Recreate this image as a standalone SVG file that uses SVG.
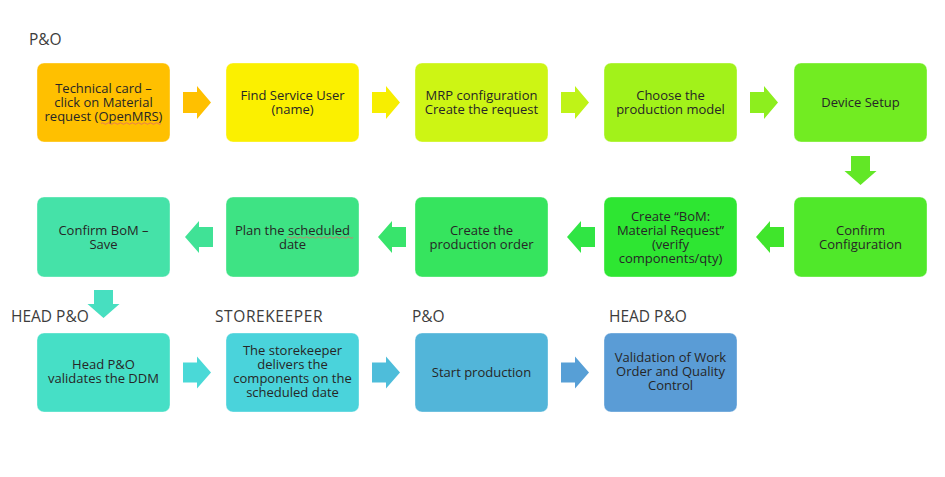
<svg xmlns="http://www.w3.org/2000/svg" width="945" height="477" viewBox="0 0 945 477">
<style>
.box{stroke:#ffffff;stroke-opacity:0.35;stroke-width:1}
.t{font-family:"Open Sans","Liberation Sans",sans-serif;font-size:13px;fill:#262626;text-anchor:middle}
.lbl{font-family:"Open Sans","Liberation Sans",sans-serif;font-size:15.5px;fill:#3c3c3c}
.sq{fill:none;stroke:#e06a6a;stroke-width:0.8}
</style>
<rect width="945" height="477" fill="#ffffff"/>
<g id="labels">
<text class="lbl" x="29" y="45">P&amp;O</text>
<text class="lbl" x="11" y="322">HEAD P&amp;O</text>
<text class="lbl" x="215" y="322" letter-spacing="0.6">STOREKEEPER</text>
<text class="lbl" x="412" y="322">P&amp;O</text>
<text class="lbl" x="609" y="322">HEAD P&amp;O</text>
</g>
<g id="connectors">
<polygon fill="#FFC000" points="183,92 197,92 197,86 211,102.5 197,119 197,113 183,113"/>
<polygon fill="#F7EE00" points="372,92 386,92 386,86 400,102.5 386,119 386,113 372,113"/>
<polygon fill="#BFF317" points="561,92 575,92 575,86 589,102.5 575,119 575,113 561,113"/>
<polygon fill="#8DEE1E" points="750,92 764,92 764,86 778,102.5 764,119 764,113 750,113"/>
<polygon fill="#62E726" points="851,156 870,156 870,171 876.5,171 860.5,185 844.5,171 851,171"/>
<polygon fill="#40E52C" points="784,227 770,227 770,221 756,237 770,253 770,247 784,247"/>
<polygon fill="#30E544" points="595,227 581,227 581,221 567,237 581,253 581,247 595,247"/>
<polygon fill="#38E46C" points="406,227 392,227 392,221 378,237 392,253 392,247 406,247"/>
<polygon fill="#40E296" points="213,227 199,227 199,221 185,237 199,253 199,247 213,247"/>
<polygon fill="#47DFC0" points="94,290 113,290 113,304 119.5,304 103.5,318 87.5,304 94,304"/>
<polygon fill="#4AD9D7" points="183,362.5 197,362.5 197,356.5 211,372.5 197,388.5 197,382.5 183,382.5"/>
<polygon fill="#4EBDDA" points="372,362.5 386,362.5 386,356.5 400,372.5 386,388.5 386,382.5 372,382.5"/>
<polygon fill="#579FD6" points="561,362.5 575,362.5 575,356.5 589,372.5 575,388.5 575,382.5 561,382.5"/>
</g>
<g id="n1"><rect class="box" x="37" y="63" width="133" height="79" rx="7" fill="#FFC000"/>
<text class="t" x="103.5" y="93">Technical card –</text><text class="t" x="103.5" y="107">click on Material</text><text class="t" x="103.5" y="121">request (OpenMRS)</text>
<path class="sq" d="M101,123.5 q1.5,-1.5 3,0 t3,0 t3,0 t3,0 t3,0 t3,0 t3,0 t3,0 t3,0 t3,0 t3,0 t3,0 t3,0 t3,0 t3,0 t3,0 t3,0 t3,0 t3,0 t3,0"/></g>
<g id="n2"><rect class="box" x="226" y="63" width="133" height="79" rx="7" fill="#FBF000"/>
<text class="t" x="292.5" y="100">Find Service User</text><text class="t" x="292.5" y="114">(name)</text></g>
<g id="n3"><rect class="box" x="415" y="63" width="133" height="79" rx="7" fill="#CDF514"/>
<text class="t" x="481.5" y="100">MRP configuration</text><text class="t" x="481.5" y="114">Create the request</text></g>
<g id="n4"><rect class="box" x="604" y="63" width="133" height="79" rx="7" fill="#A2F21A"/>
<text class="t" x="670.5" y="100">Choose the</text><text class="t" x="670.5" y="114">production model</text></g>
<g id="n5"><rect class="box" x="794" y="63" width="133" height="79" rx="7" fill="#72EC22"/>
<text class="t" x="860.5" y="107">Device Setup</text></g>
<g id="n6"><rect class="box" x="794" y="197" width="133" height="80" rx="7" fill="#50E82A"/>
<text class="t" x="860.5" y="235">Confirm</text><text class="t" x="860.5" y="249">Configuration</text></g>
<g id="n7"><rect class="box" x="604" y="197" width="133" height="80" rx="7" fill="#2EE632"/>
<text class="t" x="670.5" y="221">Create “BoM:</text><text class="t" x="670.5" y="235">Material Request”</text><text class="t" x="670.5" y="249">(verify</text><text class="t" x="670.5" y="263">components/qty)</text></g>
<g id="n8"><rect class="box" x="415" y="197" width="133" height="80" rx="7" fill="#36E45E"/>
<text class="t" x="481.5" y="235">Create the</text><text class="t" x="481.5" y="249">production order</text></g>
<g id="n9"><rect class="box" x="226" y="197" width="133" height="80" rx="7" fill="#3EE384"/>
<text class="t" x="292.5" y="235">Plan the scheduled</text><text class="t" x="292.5" y="249">date</text>
<path class="sq" d="M287,237.5 q1.5,-1.5 3,0 t3,0 t3,0 t3,0 t3,0 t3,0 t3,0 t3,0 t3,0 t3,0 t3,0 t3,0 t3,0 t3,0 t3,0 t3,0 t3,0 t3,0 t3,0 t3,0 t3,0 t3,0"/></g>
<g id="n10"><rect class="box" x="37" y="197" width="133" height="80" rx="7" fill="#45E2A8"/>
<text class="t" x="103.5" y="235">Confirm BoM –</text><text class="t" x="103.5" y="249">Save</text></g>
<g id="n11"><rect class="box" x="37" y="333" width="133" height="79" rx="7" fill="#46DFC6"/>
<text class="t" x="103.5" y="369">Head P&amp;O</text><text class="t" x="103.5" y="383">validates the DDM</text></g>
<g id="n12"><rect class="box" x="226" y="333" width="133" height="79" rx="7" fill="#4AD3DB"/>
<text class="t" x="292.5" y="355">The storekeeper</text><text class="t" x="292.5" y="369">delivers the</text><text class="t" x="292.5" y="383">components on the</text><text class="t" x="292.5" y="397">scheduled date</text></g>
<g id="n13"><rect class="box" x="415" y="333" width="133" height="79" rx="7" fill="#52B5D9"/>
<text class="t" x="481.5" y="377">Start production</text></g>
<g id="n14"><rect class="box" x="604" y="333" width="133" height="79" rx="7" fill="#5A9CD6"/>
<text class="t" x="670.5" y="362">Validation of Work</text><text class="t" x="670.5" y="376">Order and Quality</text><text class="t" x="670.5" y="390">Control</text></g>
</svg>
